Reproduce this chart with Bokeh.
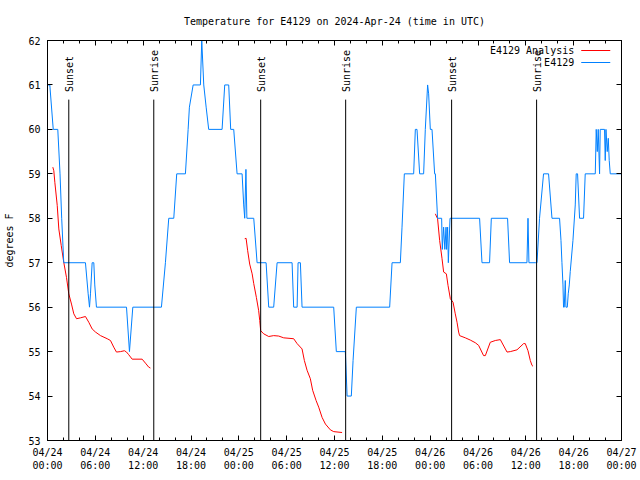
import math
from bokeh.plotting import figure
from bokeh.models import FixedTicker, LinearAxis, Range1d
from bokeh.embed import file_html
from bokeh.resources import INLINE
from bokeh.core.properties import value

# ---------------- data ----------------
title_text = "Temperature for E4129 on 2024-Apr-24 (time in UTC)"
y_label = "degrees F"
series_names = ["E4129 Analysis", "E4129"]

# hours since 2024-04-24 00:00 UTC
obs_hours = [0.00, 0.29, 0.72, 1.29, 1.57, 1.78, 2.04, 4.76, 5.10, 5.27,
             5.39, 5.60, 5.81, 5.93, 6.14, 9.91, 10.28, 10.70, 14.29, 14.79,
             15.21, 15.84, 16.21, 17.30, 17.64, 17.80, 18.27, 19.18, 19.35, 19.60,
             19.90, 20.22, 21.90, 22.23, 22.73, 22.98, 23.36, 23.78, 24.41, 24.61,
             24.74, 24.89, 25.01, 25.87, 26.29, 27.42, 27.75, 28.37, 28.80, 30.68,
             30.88, 31.31, 31.43, 31.72, 31.93, 35.90, 36.23, 37.36, 37.43, 37.58,
             38.11, 38.33, 38.74, 42.92, 43.22, 44.26, 44.47, 44.76, 45.93, 46.14,
             46.35, 46.68, 47.18, 47.39, 47.68, 47.81, 48.02, 48.23, 48.56, 48.65,
             48.93, 49.44, 49.52, 49.69, 49.84, 49.99, 50.06, 50.19, 50.28, 50.49,
             54.20, 54.50, 55.45, 55.67, 57.71, 57.96, 60.14, 60.27, 60.39, 61.18,
             61.40, 61.72, 62.22, 62.85, 63.28, 64.23, 64.41, 64.53, 64.66, 64.73,
             64.82, 64.95, 65.03, 65.20, 65.32, 65.45, 65.57, 65.91, 66.20, 66.32,
             66.49, 66.74, 67.24, 67.45, 68.71, 68.83, 68.96, 69.08, 69.25, 69.33,
             69.87, 69.96, 70.05, 70.21, 70.34, 70.46, 70.59, 72.00]
obs_temp = [61, 61, 60, 60, 59, 58, 57, 57, 56.3, 56,
            56.3, 57, 57, 56.5, 56, 56, 55, 56, 56, 57,
            58, 58, 59, 59, 60, 60.5, 61, 61, 62, 61,
            60.5, 60, 60, 61, 61, 60, 60, 59, 59, 58.3,
            58, 59.1, 58, 58, 57, 57, 56, 56, 57, 57,
            56, 56, 57, 57, 56, 56, 55, 55, 54.7, 54,
            54, 54.8, 56, 56, 57, 57, 57.8, 59, 59, 60,
            60, 59, 59, 60, 61, 60.8, 60, 60, 59, 59,
            58, 58, 57.3, 57.8, 57.3, 57.8, 57.3, 57.8, 57, 58,
            58, 57, 57, 58, 58, 57, 57, 58, 57, 57,
            57, 58, 59, 59, 58, 58, 57.5, 57, 56.5, 56,
            56, 56.6, 56, 56, 56.3, 56.5, 56.8, 57.5, 58.3, 59,
            59, 58, 58, 59, 59, 60, 59.5, 60, 59, 60,
            60, 59.3, 60, 59.5, 59.8, 59.3, 59, 59]

ana1_hours = [0.67, 0.79, 0.92, 1.22, 1.42, 1.72, 2.04, 2.38, 2.67, 3.01,
              3.30, 3.64, 4.14, 4.76, 5.18, 5.60, 6.02, 6.65, 7.49, 7.90,
              8.31, 8.65, 9.15, 9.65, 9.91, 10.19, 10.62, 11.87, 12.29, 12.70, 12.91]
ana1_temp = [59.15, 59.07, 58.81, 58.29, 57.76, 57.39, 57.01, 56.67, 56.30, 56.07,
             55.85, 55.74, 55.76, 55.79, 55.66, 55.51, 55.44, 55.36, 55.29, 55.25,
             55.10, 54.99, 55.00, 55.02, 54.99, 54.93, 54.83, 54.83, 54.74, 54.65, 54.63]

ana2_hours = [24.74, 24.91, 25.11, 25.36, 25.67, 25.87, 26.20, 26.49, 26.62, 26.74,
              27.12, 27.75, 28.37, 29.00, 29.63, 30.88, 31.31, 31.93, 32.22, 32.56,
              32.97, 33.26, 33.69, 34.02, 34.44, 34.86, 35.48, 35.90, 36.95]
ana2_temp = [57.54, 57.55, 57.27, 56.97, 56.75, 56.53, 56.22, 55.92, 55.70, 55.47,
             55.40, 55.34, 55.36, 55.35, 55.31, 55.29, 55.18, 55.06, 54.80, 54.58,
             54.39, 54.13, 53.90, 53.75, 53.52, 53.37, 53.24, 53.20, 53.18]

ana3_hours = [48.65, 48.93, 49.19, 49.49, 49.69, 50.03, 50.24, 50.53, 50.87, 51.15,
              51.37, 51.57, 51.69, 52.41, 53.03, 53.66, 54.08, 54.70, 54.92, 55.54,
              56.17, 56.80, 57.64, 58.05, 58.89, 59.72, 59.93, 60.27, 60.56, 60.77, 60.90]
ana3_temp = [58.10, 57.99, 57.50, 57.09, 56.79, 56.75, 56.49, 56.19, 56.11, 55.85,
             55.66, 55.44, 55.36, 55.31, 55.26, 55.20, 55.14, 54.91, 54.91, 55.21,
             55.25, 55.27, 54.99, 55.00, 55.04, 55.18, 55.18, 55.02, 54.80, 54.69, 54.67]

sunset_hours = [2.67, 26.74, 50.69]
sunrise_hours = [13.33, 37.40, 61.35]

tick_hours = [0, 6, 12, 18, 24, 30, 36, 42, 48, 54, 60, 66, 72]
tick_labels = ["04/24\n00:00", "04/24\n06:00", "04/24\n12:00", "04/24\n18:00",
               "04/25\n00:00", "04/25\n06:00", "04/25\n12:00", "04/25\n18:00",
               "04/26\n00:00", "04/26\n06:00", "04/26\n12:00", "04/26\n18:00",
               "04/27\n00:00"]
minor_hours = list(range(0, 73, 2))
y_ticks = [53, 54, 55, 56, 57, 58, 59, 60, 61, 62]

# ---------------- styling / layout ----------------
FONT = "DejaVu Sans Mono"
FS = "10px"
RED = "#ff0000"
BLUE = "#0080ff"
event_line_top = 60.67
event_label_y = 60.84

p = figure(frame_width=574, frame_height=400,
           x_range=Range1d(0, 72), y_range=Range1d(53, 62),
           output_backend="svg", toolbar_location=None,
           min_border_left=47, min_border_right=19,
           min_border_top=40, min_border_bottom=40)
p.background_fill_color = "white"
p.border_fill_color = "white"
p.grid.visible = False
p.outline_line_color = "black"
p.outline_line_width = 1

p.title.text = title_text
p.title.align = "center"
p.title.text_font = FONT
p.title.text_font_size = FS
p.title.text_font_style = "normal"
p.title.text_color = "black"
p.title.standoff = 27


def style_axis(ax, show_labels):
    ax.axis_line_color = "black"
    ax.major_tick_in = 5
    ax.major_tick_out = 0
    ax.minor_tick_in = 3
    ax.minor_tick_out = 0
    ax.major_tick_line_color = "black"
    ax.minor_tick_line_color = "black"
    ax.major_label_text_font = FONT
    if show_labels:
        ax.major_label_text_font_size = FS
        ax.major_label_text_color = "black"
    else:
        ax.major_label_text_font_size = "1px"
        ax.major_label_text_color = None
        ax.major_label_standoff = 0


xticker = FixedTicker(ticks=tick_hours, minor_ticks=minor_hours)
yticker = FixedTicker(ticks=y_ticks, minor_ticks=[])

xa = p.xaxis[0]
xa.ticker = xticker
xa.major_label_overrides = {h: lab for h, lab in zip(tick_hours, tick_labels)}
style_axis(xa, True)
xa.major_label_standoff = 6

ya = p.yaxis[0]
ya.ticker = yticker
style_axis(ya, True)
ya.major_label_standoff = 7
ya.axis_label = y_label
ya.axis_label_text_font = FONT
ya.axis_label_text_font_size = FS
ya.axis_label_text_font_style = "normal"
ya.axis_label_text_color = "black"
ya.axis_label_standoff = 10

top_ax = LinearAxis(ticker=xticker)
style_axis(top_ax, False)
p.add_layout(top_ax, "above")
right_ax = LinearAxis(ticker=yticker)
style_axis(right_ax, False)
p.add_layout(right_ax, "right")

# data lines
for hrs, tmp in [(ana1_hours, ana1_temp), (ana2_hours, ana2_temp), (ana3_hours, ana3_temp)]:
    p.line(hrs, tmp, line_color=RED, line_width=1)
p.line(obs_hours, obs_temp, line_color=BLUE, line_width=1)

# sunset / sunrise markers
for hrs, name in [(sunset_hours, "Sunset"), (sunrise_hours, "Sunrise")]:
    p.segment(x0=hrs, y0=[53] * len(hrs), x1=hrs, y1=[event_line_top] * len(hrs),
              line_color="black", line_width=1)
    p.text(x=hrs, y=[event_label_y] * len(hrs), text=[name] * len(hrs),
           angle=math.pi / 2, text_align="left", text_baseline="middle",
           x_offset=1, text_font=value(FONT), text_font_size=FS, text_color="black")

# gnuplot-style key (text, then sample line)
key_text_x = 66.07
key_line_x0, key_line_x1 = 66.95, 70.59
key_y = [61.775, 61.505]
p.text(x=[key_text_x] * 2, y=key_y, text=series_names, text_align="right",
       text_baseline="middle", text_font=value(FONT), text_font_size=FS, text_color="black")
for ky, col in zip(key_y, [RED, BLUE]):
    p.line([key_line_x0, key_line_x1], [ky, ky], line_color=col, line_width=1)

open("out.html", "w").write(file_html(p, INLINE))
